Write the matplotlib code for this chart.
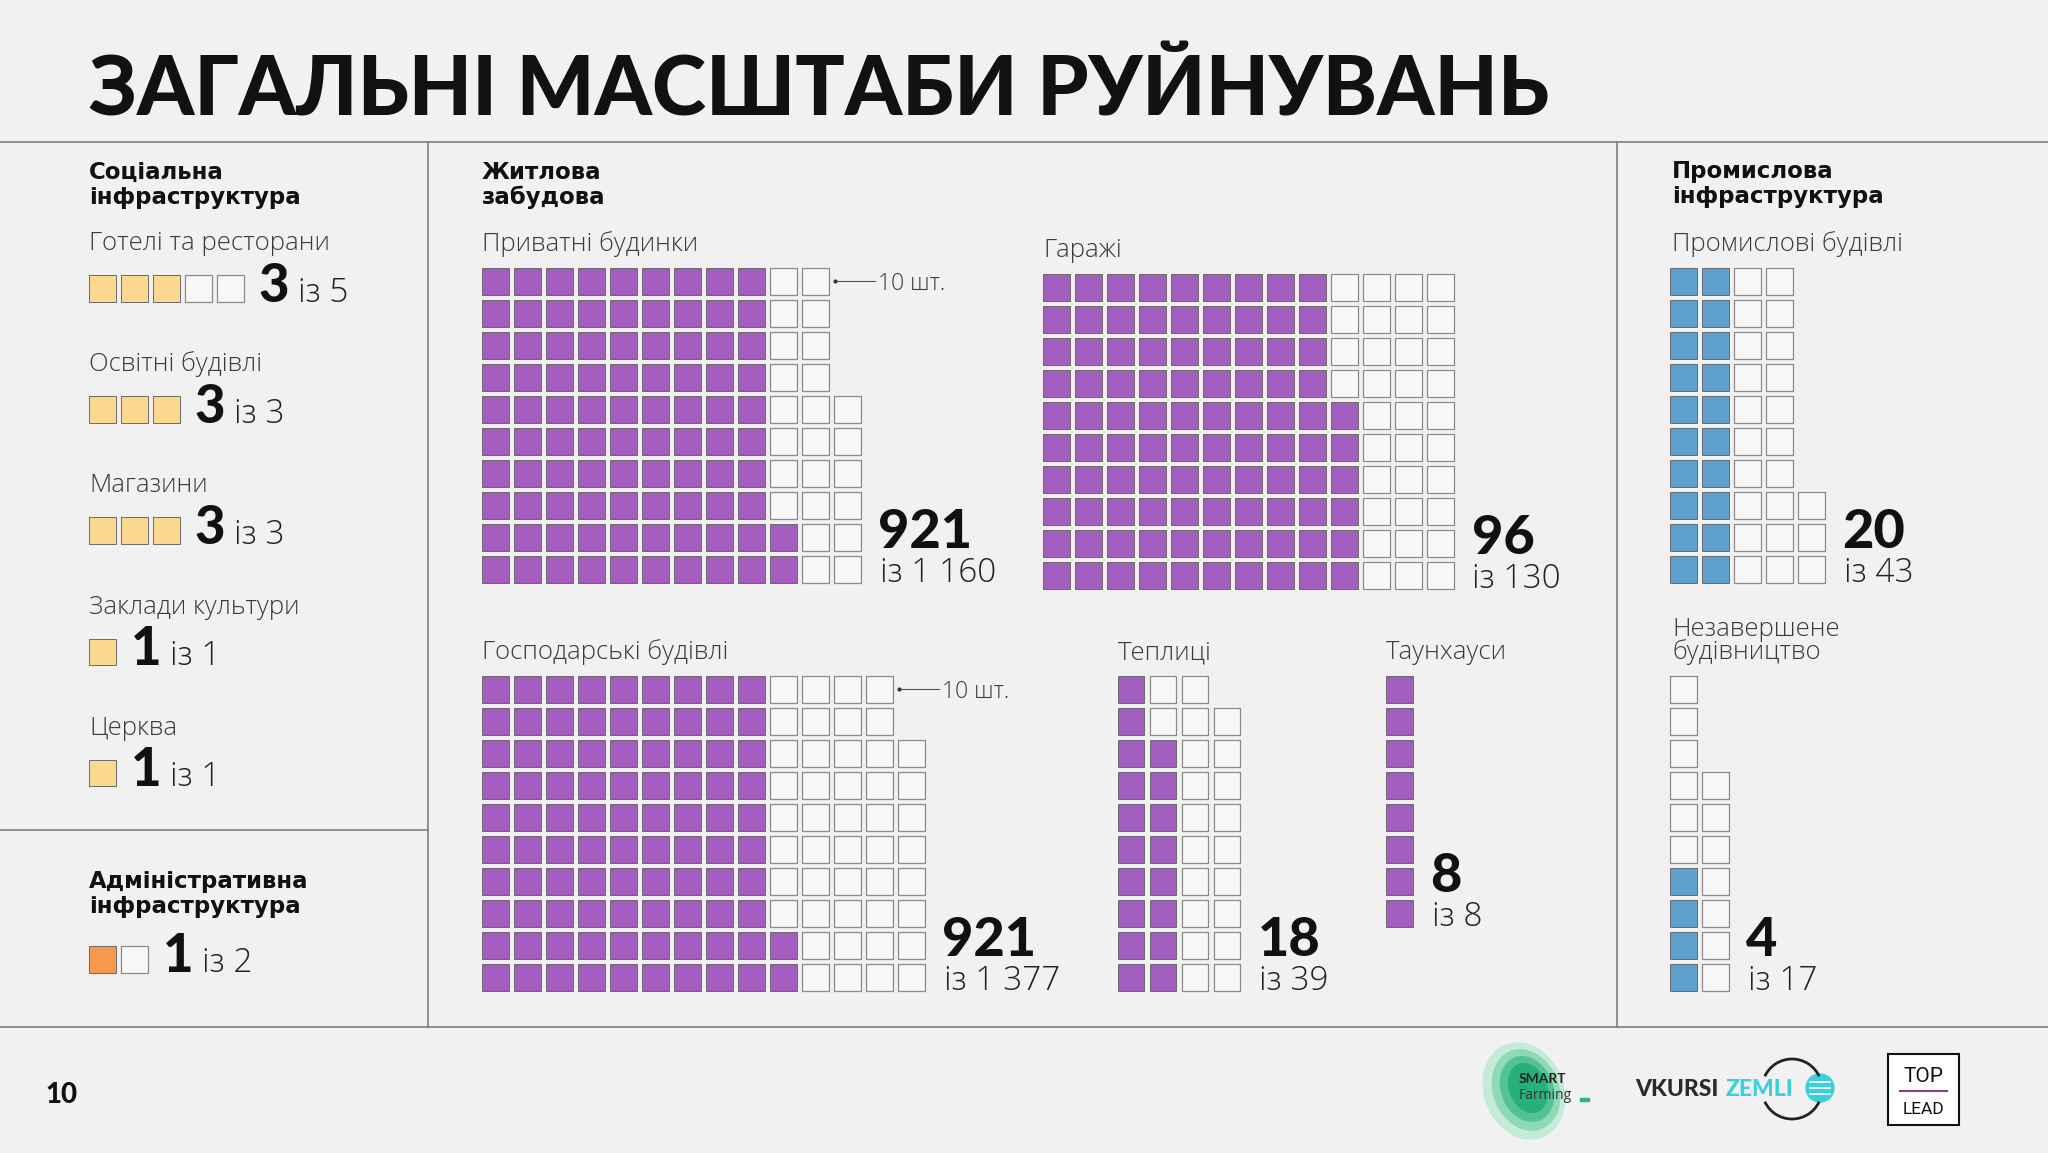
import math
import matplotlib
matplotlib.use("Agg")
import matplotlib.pyplot as plt
from matplotlib.patches import Rectangle, Ellipse, Arc, Circle

# ---------------- data ----------------
title = "ЗАГАЛЬНІ МАСШТАБИ РУЙНУВАНЬ"

social_header = "Соціальна\nінфраструктура"
social_labels = ["Готелі та ресторани", "Освітні будівлі", "Магазини",
                 "Заклади культури", "Церква"]
social_damaged = [3, 3, 3, 1, 1]
social_total = [5, 3, 3, 1, 1]

admin_header = "Адміністративна\nінфраструктура"
admin_damaged = [1]
admin_total = [2]

housing_header = "Житлова\nзабудова"
housing_labels = ["Приватні будинки", "Гаражі", "Господарські будівлі",
                  "Теплиці", "Таунхауси"]
housing_damaged = [921, 96, 921, 18, 8]
housing_total = [1160, 130, 1377, 39, 8]
housing_unit = [10, 1, 10, 1, 1]

industrial_header = "Промислова\nінфраструктура"
industrial_labels = ["Промислові будівлі", "Незавершене\nбудівництво"]
industrial_damaged = [20, 4]
industrial_total = [43, 17]

unit_note = "10 шт."
of_word = "із"
page_number = "10"

# ---------------- style ----------------
BG = "#F1F1F1"
PURPLE = "#A25DBE"
BLUE = "#5FA0CF"
YELLOW = "#FAD88F"
ORANGE = "#F7984C"
EMPTY_FILL = "#F7F7F7"
EMPTY_EDGE = "#8A8A8A"
LINE = "#7E7E7E"
HEAVY = ["Lato", "DejaVu Sans"]
HEAD = ["DejaVu Sans"]
LIGHT = ["Open Sans", "DejaVu Sans"]
LABEL_SIZE = 18.5
HEAD_SIZE = 16.5

SQ = 26.5
PITCH = 32.0

fig = plt.figure(figsize=(20.48, 11.53), dpi=100, facecolor=BG)
ax = fig.add_axes([0, 0, 1, 1])
ax.set_xlim(0, 2048)
ax.set_ylim(1153, 0)
ax.axis("off")
ax.set_facecolor(BG)
renderer = fig.canvas.get_renderer()


def fmt(n):
    return f"{n:,}".replace(",", " ")


def put(x, y, s, size, family, weight, color="#111111", gap=25, ha="left", va="baseline"):
    objs = []
    for k, line in enumerate(s.split("\n")):
        objs.append(ax.text(x, y + k * gap, line, fontsize=size, family=family,
                            fontweight=weight, color=color, ha=ha, va=va))
    return objs


def width_of(t):
    return t.get_window_extent(renderer).width


def waffle(x0, top, damaged, total, unit, color, horizontal=False):
    n_fill = int(round(damaged / unit))
    n_tot = int(round(total / unit))
    nrows = 1 if horizontal else min(10, n_tot)
    for i in range(n_tot):
        col = i // nrows
        rfb = i % nrows
        row = nrows - 1 - rfb
        filled = i < n_fill
        ax.add_patch(Rectangle((x0 + col * PITCH, top + row * PITCH), SQ, SQ,
                               facecolor=color if filled else EMPTY_FILL,
                               edgecolor="#6A6A6A" if filled else EMPTY_EDGE,
                               lw=0.7 if filled else 0.9))
    ncols = math.ceil(n_tot / nrows)
    right = x0 + (ncols - 1) * PITCH + SQ
    bottom = top + (nrows - 1) * PITCH + SQ
    top_cols = sum(1 for i in range(n_tot) if i % nrows == nrows - 1)
    top_right = x0 + (top_cols - 1) * PITCH + SQ
    return right, bottom, top_right


def grid_numbers(right, bottom, damaged, total):
    put(right + 18, bottom - 35, fmt(damaged), 39, HEAVY, "black")
    put(right + 19, bottom - 1, f"{of_word} {fmt(total)}", 24, LIGHT, "light", "#222222")


def row_numbers(right, bottom, damaged, total):
    t = put(right + 15, bottom, fmt(damaged), 38, HEAVY, "black")[0]
    w = width_of(t)
    put(right + 15 + w + 9, bottom, f"{of_word} {fmt(total)}", 24, LIGHT, "light", "#222222")


# ---------------- frame lines ----------------
ax.plot([0, 2048], [142, 142], color=LINE, lw=1.2)
ax.plot([0, 2048], [1027, 1027], color=LINE, lw=1.2)
ax.plot([428, 428], [142, 1027], color=LINE, lw=1.2)
ax.plot([1617, 1617], [142, 1027], color=LINE, lw=1.2)
ax.plot([0, 428], [830, 830], color=LINE, lw=1.2)

# ---------------- title ----------------
t = put(89, 115, title, 52, HEAVY, "black")[0]
w = width_of(t)
t.set_fontsize(min(62, max(46, 52 * (1459 / w))))

# ---------------- social ----------------
put(89, 179, social_header, HEAD_SIZE, HEAD, "bold")
for k, (lab, d, tot) in enumerate(zip(social_labels, social_damaged, social_total)):
    top = 275 + k * 121.2
    put(89, top - 25, lab, LABEL_SIZE, LIGHT, "light", "#3A3A3A")
    right, bottom, _ = waffle(89, top, d, tot, 1, YELLOW, horizontal=True)
    row_numbers(right, bottom, d, tot)

# ---------------- admin ----------------
put(89, 888, admin_header, HEAD_SIZE, HEAD, "bold")
right, bottom, _ = waffle(89, 946, admin_damaged[0], admin_total[0], 1, ORANGE, horizontal=True)
row_numbers(right, bottom, admin_damaged[0], admin_total[0])

# ---------------- housing ----------------
put(482, 179, housing_header, HEAD_SIZE, HEAD, "bold")
housing_pos = [(482, 268), (1043, 274), (482, 676), (1117.5, 676), (1386, 676)]
for lab, d, tot, u, (x0, top) in zip(housing_labels, housing_damaged, housing_total,
                                      housing_unit, housing_pos):
    put(x0, top - 17, lab, LABEL_SIZE, LIGHT, "light", "#3A3A3A")
    right, bottom, top_right = waffle(x0, top, d, tot, u, PURPLE)
    grid_numbers(right, bottom, d, tot)
    if u > 1:
        yc = top + SQ / 2
        ax.plot([top_right + 6, top_right + 46], [yc, yc], color="#555555", lw=0.8)
        ax.plot([top_right + 6], [yc], marker="o", ms=2, color="#333333")
        put(top_right + 50, yc, unit_note, 16.5, LIGHT, "light", "#3A3A3A", va="center_baseline")

# ---------------- industrial ----------------
put(1672, 178, industrial_header, HEAD_SIZE, HEAD, "bold")
ind_pos = [(1670, 268), (1670, 676)]
for lab, d, tot, (x0, top) in zip(industrial_labels, industrial_damaged, industrial_total, ind_pos):
    nl = lab.count("\n")
    put(1672, top - 17 - nl * 23, lab, LABEL_SIZE, LIGHT, "light", "#3A3A3A", gap=23)
    right, bottom, _ = waffle(x0, top, d, tot, 1, BLUE)
    grid_numbers(right, bottom, d, tot)

# ---------------- footer ----------------
put(45, 1103, page_number, 20, HEAVY, "black")

# SMART Farming logo
for (w_, h_, dx, dy, c) in [(80, 100, 0, 0, "#C4EBD5"), (66, 84, 2, -1, "#8FD9B5"),
                            (52, 68, 3, -2, "#52C493"), (38, 52, 4, -3, "#27B07A")]:
    ax.add_patch(Ellipse((1524 + dx, 1091 + dy), w_, h_, angle=-22, color=c, lw=0))
put(1519, 1083, "SMART", 10, HEAVY, "bold", "#222222")
put(1519, 1099, "Farming", 10, LIGHT, "normal", "#333333")
ax.add_patch(Rectangle((1580, 1098), 9, 3, color="#2BB57E"))

# VKURSI ZEMLI logo
t1 = put(1635, 1088, "VKURSI", 16.5, HEAVY, "black", "#2A2A2A", va="center_baseline")[0]
w1 = width_of(t1)
t2 = put(1635 + w1 + 7, 1088, "ZEMLI", 16.5, HEAVY, "black", "#3BD0DA", va="center_baseline")[0]
zend = 1635 + w1 + 7 + width_of(t2)
cx = max(1820, zend + 17)
ax.add_patch(Circle((cx, 1088), 14, color="#3BD0DA"))
for yy in (1082, 1088, 1094):
    ax.plot([cx - 10, cx + 10], [yy, yy], color="white", lw=1.2)
ax.add_patch(Arc((cx - 28, 1089), 60, 60, theta1=25, theta2=155, color="#222222", lw=2))
ax.add_patch(Arc((cx - 28, 1089), 60, 60, theta1=205, theta2=335, color="#222222", lw=2))

# TOP LEAD logo
ax.add_patch(Rectangle((1888, 1054), 71, 71, facecolor="white", edgecolor="#111111", lw=1.5))
put(1923.5, 1074, "TOP", 15, ["Roboto", "DejaVu Sans"], "normal", "#111111", ha="center", va="center_baseline")
ax.plot([1900, 1947], [1091, 1091], color="#8E3A8E", lw=1.5)
put(1923.5, 1108, "LEAD", 12.5, ["Roboto", "DejaVu Sans"], "normal", "#111111", ha="center", va="center_baseline")

fig.savefig("out.png", dpi=100, facecolor=BG)
